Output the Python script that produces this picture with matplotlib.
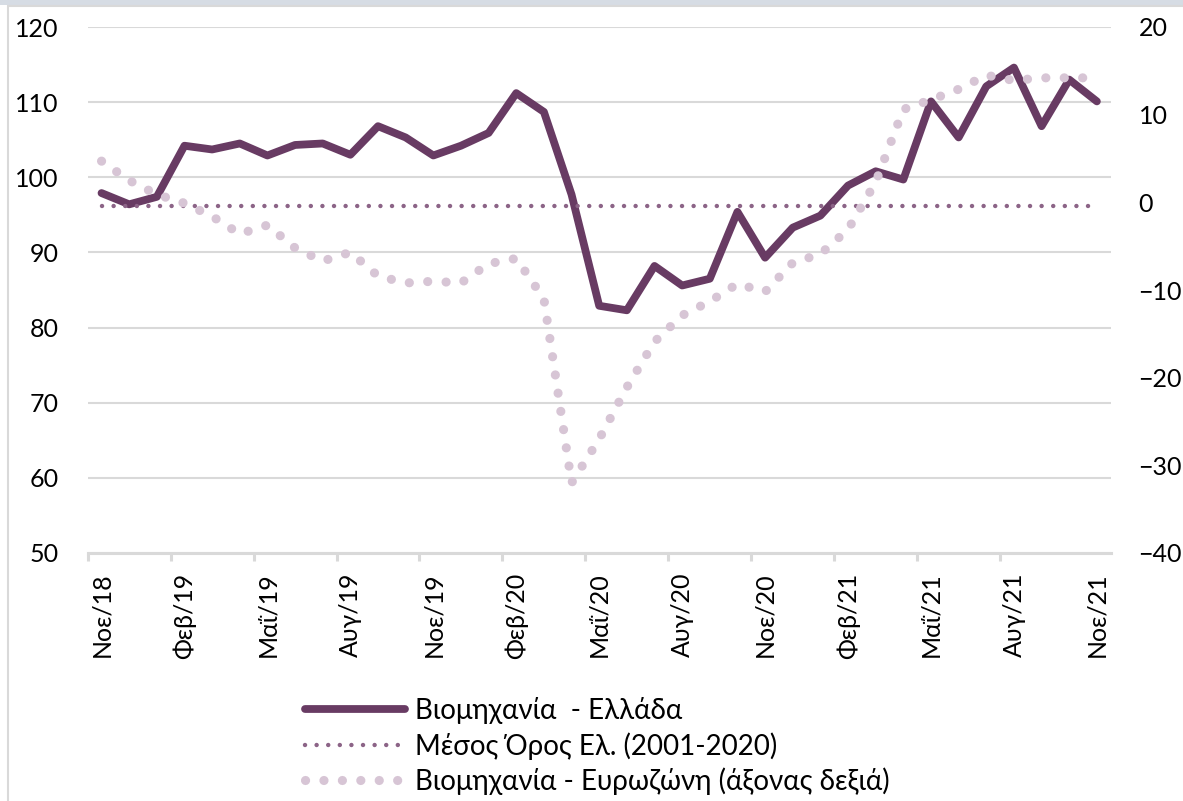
import matplotlib
matplotlib.use("Agg")
import matplotlib.pyplot as plt
from matplotlib.patches import Rectangle
from matplotlib.lines import Line2D

# Data

greece = [97.9, 96.4, 97.4, 104.2, 103.7, 104.5, 102.9, 104.3, 104.5, 103.0,
          106.8, 105.3, 102.9, 104.2, 105.9, 111.2, 108.7, 97.7, 82.9, 82.3,
          88.2, 85.6, 86.5, 95.4, 89.3, 93.3, 94.9, 98.9, 100.8, 99.7,
          110.1, 105.3, 112.1, 114.6, 106.8, 113.0, 110.1]

eurozone = [4.7, 2.5, 0.9, -0.1, -1.6, -3.6, -2.6, -5.2, -6.7, -5.7,
            -8.4, -9.2, -9.0, -9.2, -7.0, -6.4, -11.0, -32.0, -27.0, -21.1,
            -15.9, -12.9, -11.3, -9.3, -10.2, -6.9, -5.9, -3.1, 2.3, 10.6,
            11.7, 12.9, 14.5, 13.9, 14.2, 14.2, 14.2]

greece_avg = 96.2

tick_labels = ["Νοε/18", "Φεβ/19", "Μαΐ/19", "Αυγ/19", "Νοε/19", "Φεβ/20", "Μαΐ/20",
               "Αυγ/20", "Νοε/20", "Φεβ/21", "Μαΐ/21", "Αυγ/21", "Νοε/21"]

series_names = ["Βιομηχανία  - Ελλάδα",
                "Μέσος Όρος Ελ. (2001-2020)",
                "Βιομηχανία - Ευρωζώνη (άξονας δεξιά)"]

# Style

plt.rcParams["font.family"] = ["Lato", "DejaVu Sans"]

c_greece = "#683B63"
c_avg = "#8C6487"
c_euro = "#D7C5D5"
c_grid = "#D9D9D9"
fs = 18

W, H = 1183, 801
fig = plt.figure(figsize=(W / 100, H / 100), dpi=100)

# plot area in pixels
left, right, top, bottom = 87.7, 1110.7, 27, 553
ax = fig.add_axes([left / W, 1 - bottom / H, (right - left) / W, (bottom - top) / H])
ax2 = ax.twinx()

x = list(range(len(greece)))

ax.plot(x, greece, color=c_greece, lw=5.6, solid_capstyle="round",
        solid_joinstyle="round", zorder=3)
ax.plot(x, [greece_avg] * len(x), color=c_avg, lw=3.2,
        linestyle=(0, (0.01, 2.6)), dash_capstyle="round", zorder=4)
ax2.plot(x, eurozone, color=c_euro, lw=6.6,
         linestyle=(0, (0.01, 2.0)), dash_capstyle="round")

# Axes

ax.set_xlim(-0.5, len(x) - 0.5)
ax.set_ylim(50, 120)
ax2.set_ylim(-40, 20)
ax.set_yticks(range(50, 121, 10))
ax2.set_yticks(range(-40, 21, 10))

ax.grid(axis="y", color=c_grid, lw=1.5)
ax.set_axisbelow(True)

for a in (ax, ax2):
    for s in ("left", "right", "top"):
        a.spines[s].set_visible(False)
ax.spines["bottom"].set_color(c_grid)
ax.spines["bottom"].set_linewidth(2.2)
ax2.spines["bottom"].set_visible(False)

ax.tick_params(axis="y", length=0, pad=21, labelsize=fs)
ax2.tick_params(axis="y", length=0, pad=20, labelsize=fs)

# tick marks between categories, labels on category centres
ax.set_xticks([i - 0.5 for i in range(0, len(x) - 1, 3)])
ax.set_xticklabels([])
ax.tick_params(axis="x", which="major", length=6, width=2.2, color=c_grid)
ax.set_xticks(list(range(0, len(x), 3)), minor=True)
ax.set_xticklabels(tick_labels, minor=True, rotation=90, fontsize=fs)
ax.tick_params(axis="x", which="minor", length=0, pad=14)

# Legend

handles = [
    Line2D([], [], color=c_greece, lw=5.6, solid_capstyle="round"),
    Line2D([], [], color=c_avg, lw=3.2, linestyle=(0, (0.01, 2.6)), dash_capstyle="round"),
    Line2D([], [], color=c_euro, lw=6.6, linestyle=(0, (0.01, 2.0)), dash_capstyle="round"),
]
fig.legend(handles, series_names, loc="center", bbox_to_anchor=(597 / W, 1 - 746 / H),
           frameon=False, fontsize=20, handlelength=3.6, handletextpad=0.36,
           labelspacing=0.28, borderpad=0)

# Chart border as in the screenshot

fig.patches.append(Rectangle((0, 1 - 5 / H), 1, 5 / H, transform=fig.transFigure,
                             facecolor="#D6DCE4", edgecolor="none"))
fig.patches.append(Rectangle((8 / W, -0.1), 1.2, 1.1 - 6 / H, transform=fig.transFigure,
                             fill=False, edgecolor=c_grid, lw=1.5))

fig.savefig("out.png", dpi=100)
